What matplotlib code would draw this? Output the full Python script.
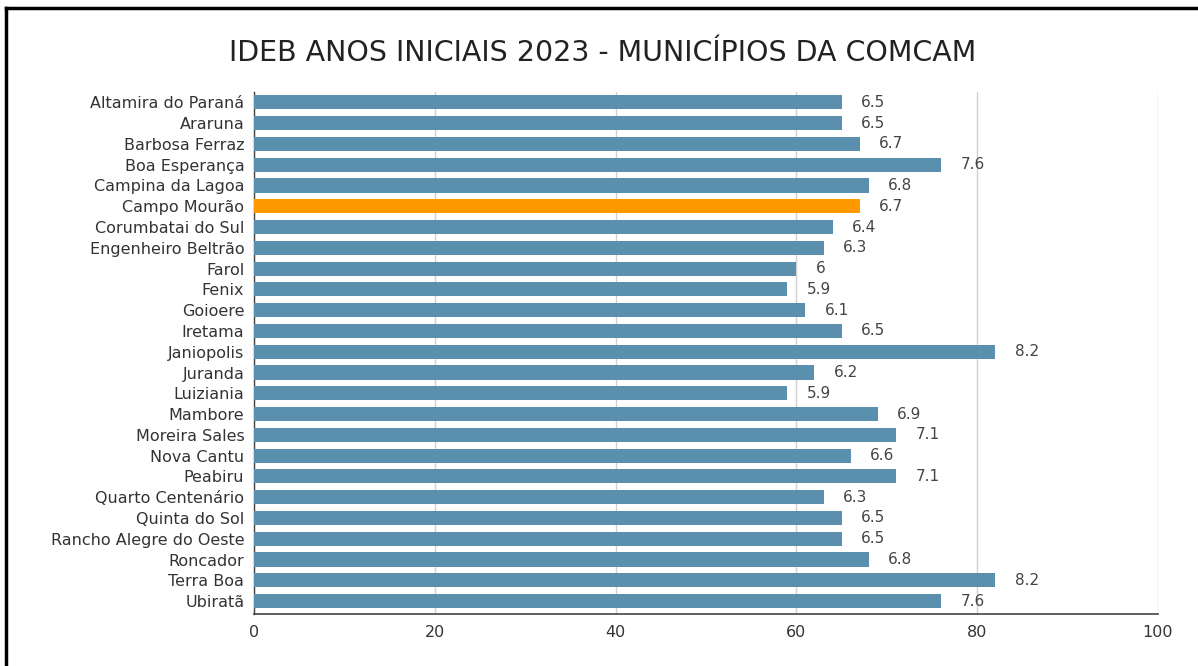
import matplotlib
matplotlib.use("Agg")
import matplotlib.pyplot as plt
from matplotlib.lines import Line2D

plt.rcParams['font.family'] = ['DejaVu Sans']

title = "IDEB ANOS INICIAIS 2023 - MUNICÍPIOS DA COMCAM"
municipios = [
    "Altamira do Paraná", "Araruna", "Barbosa Ferraz", "Boa Esperança",
    "Campina da Lagoa", "Campo Mourão", "Corumbatai do Sul", "Engenheiro Beltrão",
    "Farol", "Fenix", "Goioere", "Iretama", "Janiopolis", "Juranda",
    "Luiziania", "Mambore", "Moreira Sales", "Nova Cantu", "Peabiru",
    "Quarto Centenário", "Quinta do Sol", "Rancho Alegre do Oeste",
    "Roncador", "Terra Boa", "Ubiratã",
]
ideb = [6.5, 6.5, 6.7, 7.6, 6.8, 6.7, 6.4, 6.3, 6.0, 5.9, 6.1, 6.5, 8.2, 6.2,
        5.9, 6.9, 7.1, 6.6, 7.1, 6.3, 6.5, 6.5, 6.8, 8.2, 7.6]
bar_scale = 10  # bars in the source are drawn on a 0-100 scale
highlight = "Campo Mourão"
xticks = [0, 20, 40, 60, 80, 100]

blue = "#5a90ae"
orange = "#ff9900"

fig = plt.figure(figsize=(11.98, 6.66), dpi=100)
ax = fig.add_axes([0.212, 0.0781, 0.7546, 0.7838])

ypos = list(range(len(municipios)))
lengths = [v * bar_scale for v in ideb]
colors = [orange if m == highlight else blue for m in municipios]
ax.barh(ypos, lengths, height=0.68, color=colors, zorder=3)

for y, v, L in zip(ypos, ideb, lengths):
    ax.annotate(f"{v:g}", xy=(L, y), xytext=(14, 0), textcoords="offset points",
                ha="left", va="center", fontsize=11, color="#444444", zorder=4)

ax.set_xlim(0, 100)
ax.set_ylim(len(municipios) - 1 + 0.62, -0.5)
ax.set_xticks(xticks)
ax.set_xticklabels([str(t) for t in xticks])
ax.set_yticks(ypos)
ax.set_yticklabels(municipios)
ax.tick_params(axis='both', length=0, labelsize=11.5, labelcolor="#333333")
ax.tick_params(axis='x', pad=8)
ax.tick_params(axis='y', pad=7)

ax.grid(axis='x', color="#d0d0d0", linewidth=1, zorder=0)
ax.grid(axis='y', visible=False)
for s in ["top", "right"]:
    ax.spines[s].set_visible(False)
ax.spines["left"].set_color("#444444")
ax.spines["bottom"].set_color("#444444")
ax.spines["left"].set_linewidth(1.0)
ax.spines["bottom"].set_linewidth(1.2)

fig.text(0.503, 1 - 53 / 666, title, ha="center", va="center",
         fontsize=20.5, color="#222222")

# document frame lines (top and left)
fig.add_artist(Line2D([6 / 1198, 1.0], [1 - 8 / 666, 1 - 8 / 666],
                      transform=fig.transFigure, color="black", linewidth=2.5))
fig.add_artist(Line2D([6 / 1198, 6 / 1198], [0.0, 1 - 8 / 666],
                      transform=fig.transFigure, color="black", linewidth=2.5))

fig.savefig("out.png", dpi=100, facecolor="white")
